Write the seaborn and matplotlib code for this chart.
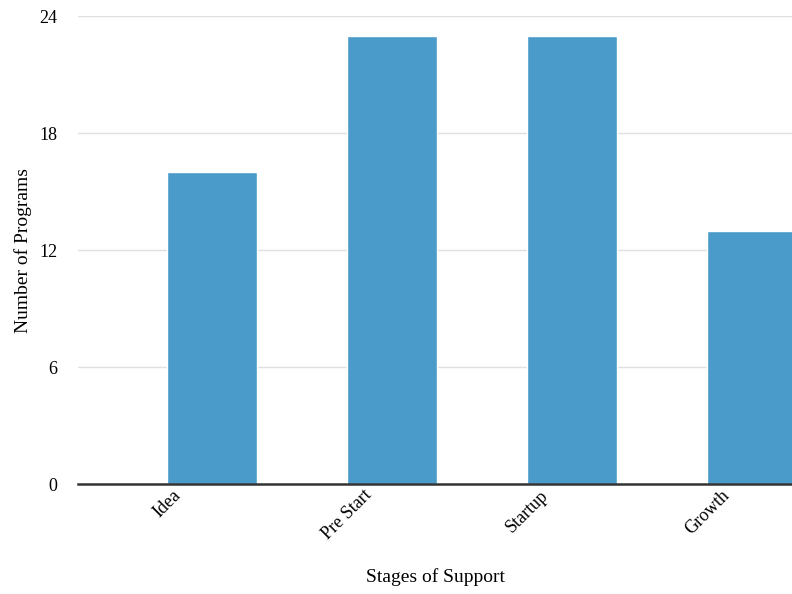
import numpy as np
import pandas as pd
import seaborn as sns
import matplotlib.pyplot as plt

stages = ['Idea', 'Pre Start', 'Startup', 'Growth']
programs = [16, 23, 23, 13]
yticks = [0, 6, 12, 18, 24]

df = pd.DataFrame({'Stage': stages, 'Programs': programs})

sns.set_style('white')
plt.rcParams['font.family'] = ['Liberation Serif', 'DejaVu Serif']
plt.rcParams['text.color'] = 'black'
plt.rcParams['axes.labelcolor'] = 'black'
plt.rcParams['xtick.color'] = 'black'
plt.rcParams['ytick.color'] = 'black'

fig = plt.figure(figsize=(7.92, 5.94), dpi=100)
ax = fig.add_axes([0.0985, 0.185, 0.9015, 0.788])

sns.barplot(data=df, x='Stage', y='Programs', color='#4a9bc9', saturation=1,
            width=0.5, ax=ax, zorder=2)

ax.set_ylim(0, 24)
ax.set_yticks(yticks)
ax.set_xlim(-0.745, 3.222)
ax.yaxis.grid(True, color='#e0e0e0', linewidth=1, zorder=0)
ax.set_axisbelow(True)

# labels sit under the left edge of each bar
ax.set_xticks(np.arange(len(stages)) - 0.25)
ax.set_xticklabels(stages, rotation=45, ha='center', va='top', fontsize=13)
ax.tick_params(axis='x', length=0, pad=2)
ax.tick_params(axis='y', length=0, pad=15, labelsize=13)

for s in ['top', 'right', 'left']:
    ax.spines[s].set_visible(False)
ax.spines['bottom'].set_color('#333333')
ax.spines['bottom'].set_linewidth(1.8)
ax.spines['bottom'].set_zorder(3)

ax.set_xlabel('Stages of Support', fontsize=14, labelpad=18)
ax.set_ylabel('Number of Programs', fontsize=14, labelpad=5)

fig.savefig('out.png', dpi=100)
